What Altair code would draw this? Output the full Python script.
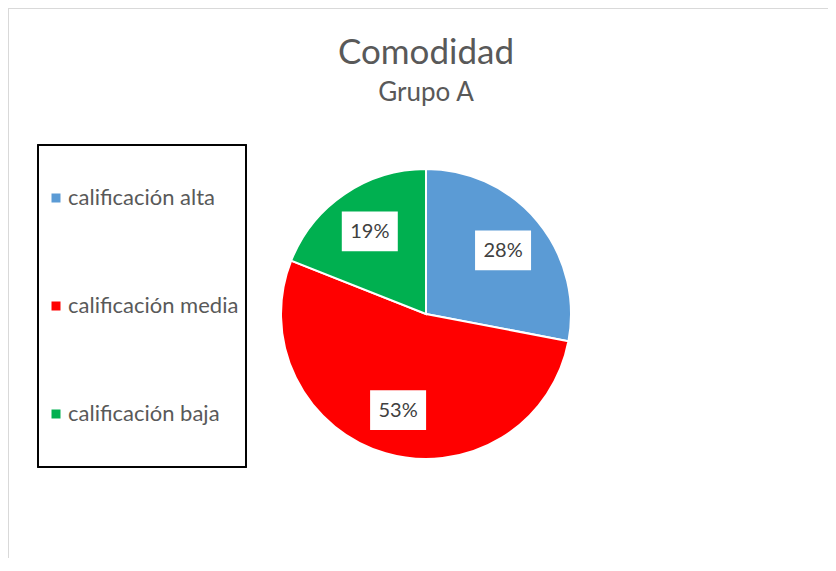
import altair as alt
import pandas as pd

categories = ["calificación alta", "calificación media", "calificación baja"]
values = [28, 53, 19]
labels = ["28%", "53%", "19%"]
colors = ["#5B9BD5", "#FF0000", "#00B050"]
order = [0, 1, 2]

df = pd.DataFrame({"cat": categories, "value": values, "label": labels, "order": order})

FONT = "Lato"
W, H = 820, 550
CX, CY = 418, 306
R = 145
RL = 100

base = alt.Chart(df)

color = alt.Color(
    "cat:N",
    scale=alt.Scale(domain=categories, range=colors),
    sort=categories,
    legend=alt.Legend(
        orient="none", legendX=37, legendY=179, title=None,
        symbolType="square", symbolSize=81, symbolStrokeWidth=0,
        labelFontSize=22, labelFont=FONT, labelColor="#595959",
        rowPadding=86, labelOffset=1, labelLimit=300, padding=0,
    ),
)

pie = base.mark_arc(outerRadius=R, stroke="white", strokeWidth=2).encode(
    theta=alt.Theta("value:Q", stack=True),
    color=color,
    order=alt.Order("order:Q"),
    x=alt.value(CX),
    y=alt.value(CY),
)

pos = base.transform_joinaggregate(total="sum(value)").transform_window(
    cum="sum(value)", sort=[alt.SortField("order")]
).transform_calculate(
    ang="2*PI*(datum.cum - datum.value/2)/datum.total",
    px=f"{CX} + {RL}*sin(datum.ang)",
    py=f"{CY} - {RL}*cos(datum.ang)",
)

boxes = pos.mark_point(
    shape="M-1,-0.71L1,-0.71L1,0.71L-1,0.71Z", size=3136,
    filled=True, color="white", opacity=1,
).encode(x=alt.X("px:Q", scale=None), y=alt.Y("py:Q", scale=None))

texts = pos.mark_text(fontSize=20, font=FONT, color="#404040", dy=1).encode(
    x=alt.X("px:Q", scale=None), y=alt.Y("py:Q", scale=None), text="label:N"
)

legend_box = base.mark_rect(fill=None, stroke="black", strokeWidth=1.5).encode(
    x=alt.value(30), x2=alt.value(238), y=alt.value(137), y2=alt.value(459)
)

frame_top = base.mark_rule(color="#d9d9d9", strokeWidth=2).encode(
    x=alt.value(0), x2=alt.value(W), y=alt.value(0)
)
frame_left = base.mark_rule(color="#d9d9d9", strokeWidth=2).encode(
    x=alt.value(0), y=alt.value(0), y2=alt.value(H + 10)
)

chart = alt.layer(frame_top, frame_left, legend_box, pie, boxes, texts).properties(
    width=W, height=H,
    autosize=alt.AutoSizeParams(type="none"),
    padding=0,
    title=alt.TitleParams(
        "Comodidad", subtitle="Grupo A",
        fontSize=35, subtitleFontSize=26, font=FONT, subtitleFont=FONT,
        fontWeight="normal", color="#595959", subtitleColor="#595959",
        anchor="middle", frame="group", offset=-99, dx=8, subtitlePadding=9,
    ),
).configure_view(stroke=None)

chart.save("out.html", embed_options={"renderer": "svg", "actions": False})
